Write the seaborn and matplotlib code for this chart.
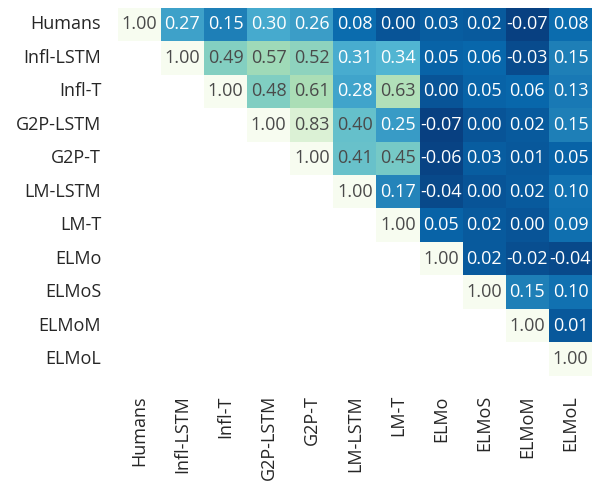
import numpy as np
import pandas as pd
import matplotlib
matplotlib.use("Agg")
import matplotlib.pyplot as plt
import seaborn as sns

labels = ["Humans", "Infl-LSTM", "Infl-T", "G2P-LSTM", "G2P-T", "LM-LSTM",
          "LM-T", "ELMo", "ELMoS", "ELMoM", "ELMoL"]

# upper-triangle rows (starting from the diagonal)
row_humans = [1.00, 0.27, 0.15, 0.30, 0.26, 0.08, 0.00, 0.03, 0.02, -0.07, 0.08]
row_infl_lstm = [1.00, 0.49, 0.57, 0.52, 0.31, 0.34, 0.05, 0.06, -0.03, 0.15]
row_infl_t = [1.00, 0.48, 0.61, 0.28, 0.63, 0.00, 0.05, 0.06, 0.13]
row_g2p_lstm = [1.00, 0.83, 0.40, 0.25, -0.07, 0.00, 0.02, 0.15]
row_g2p_t = [1.00, 0.41, 0.45, -0.06, 0.03, 0.01, 0.05]
row_lm_lstm = [1.00, 0.17, -0.04, 0.00, 0.02, 0.10]
row_lm_t = [1.00, 0.05, 0.02, 0.00, 0.09]
row_elmo = [1.00, 0.02, -0.02, -0.04]
row_elmos = [1.00, 0.15, 0.10]
row_elmom = [1.00, 0.01]
row_elmol = [1.00]

rows = [row_humans, row_infl_lstm, row_infl_t, row_g2p_lstm, row_g2p_t,
        row_lm_lstm, row_lm_t, row_elmo, row_elmos, row_elmom, row_elmol]

n = len(labels)
mat = np.full((n, n), np.nan)
for i, r in enumerate(rows):
    mat[i, i:] = r
df = pd.DataFrame(mat, index=labels, columns=labels)
mask = np.isnan(mat)

sns.set_theme(style="white")
plt.rcParams["font.family"] = ["Open Sans", "DejaVu Sans"]

fig = plt.figure(figsize=(5.92, 4.83), dpi=100)
ax = fig.add_axes([0.199, 0.222, 0.801, 0.762])
sns.heatmap(df, mask=mask, cmap="GnBu_r", vmin=-0.07, vmax=1.0, annot=True,
            fmt=".2f", cbar=False, ax=ax,
            annot_kws={"fontsize": 13})
for t in ax.texts:
    c = matplotlib.colors.to_rgb(t.get_color())
    if sum(c) < 1.5:
        t.set_color("#4a4a4a")
ax.tick_params(axis="y", length=0, labelsize=13, pad=12)
ax.tick_params(axis="x", length=0, labelsize=13, pad=14)
plt.setp(ax.get_xticklabels(), rotation=90)
plt.setp(ax.get_yticklabels(), rotation=0)
ax.set_xlabel("")
ax.set_ylabel("")
fig.savefig("out.png", dpi=100)
